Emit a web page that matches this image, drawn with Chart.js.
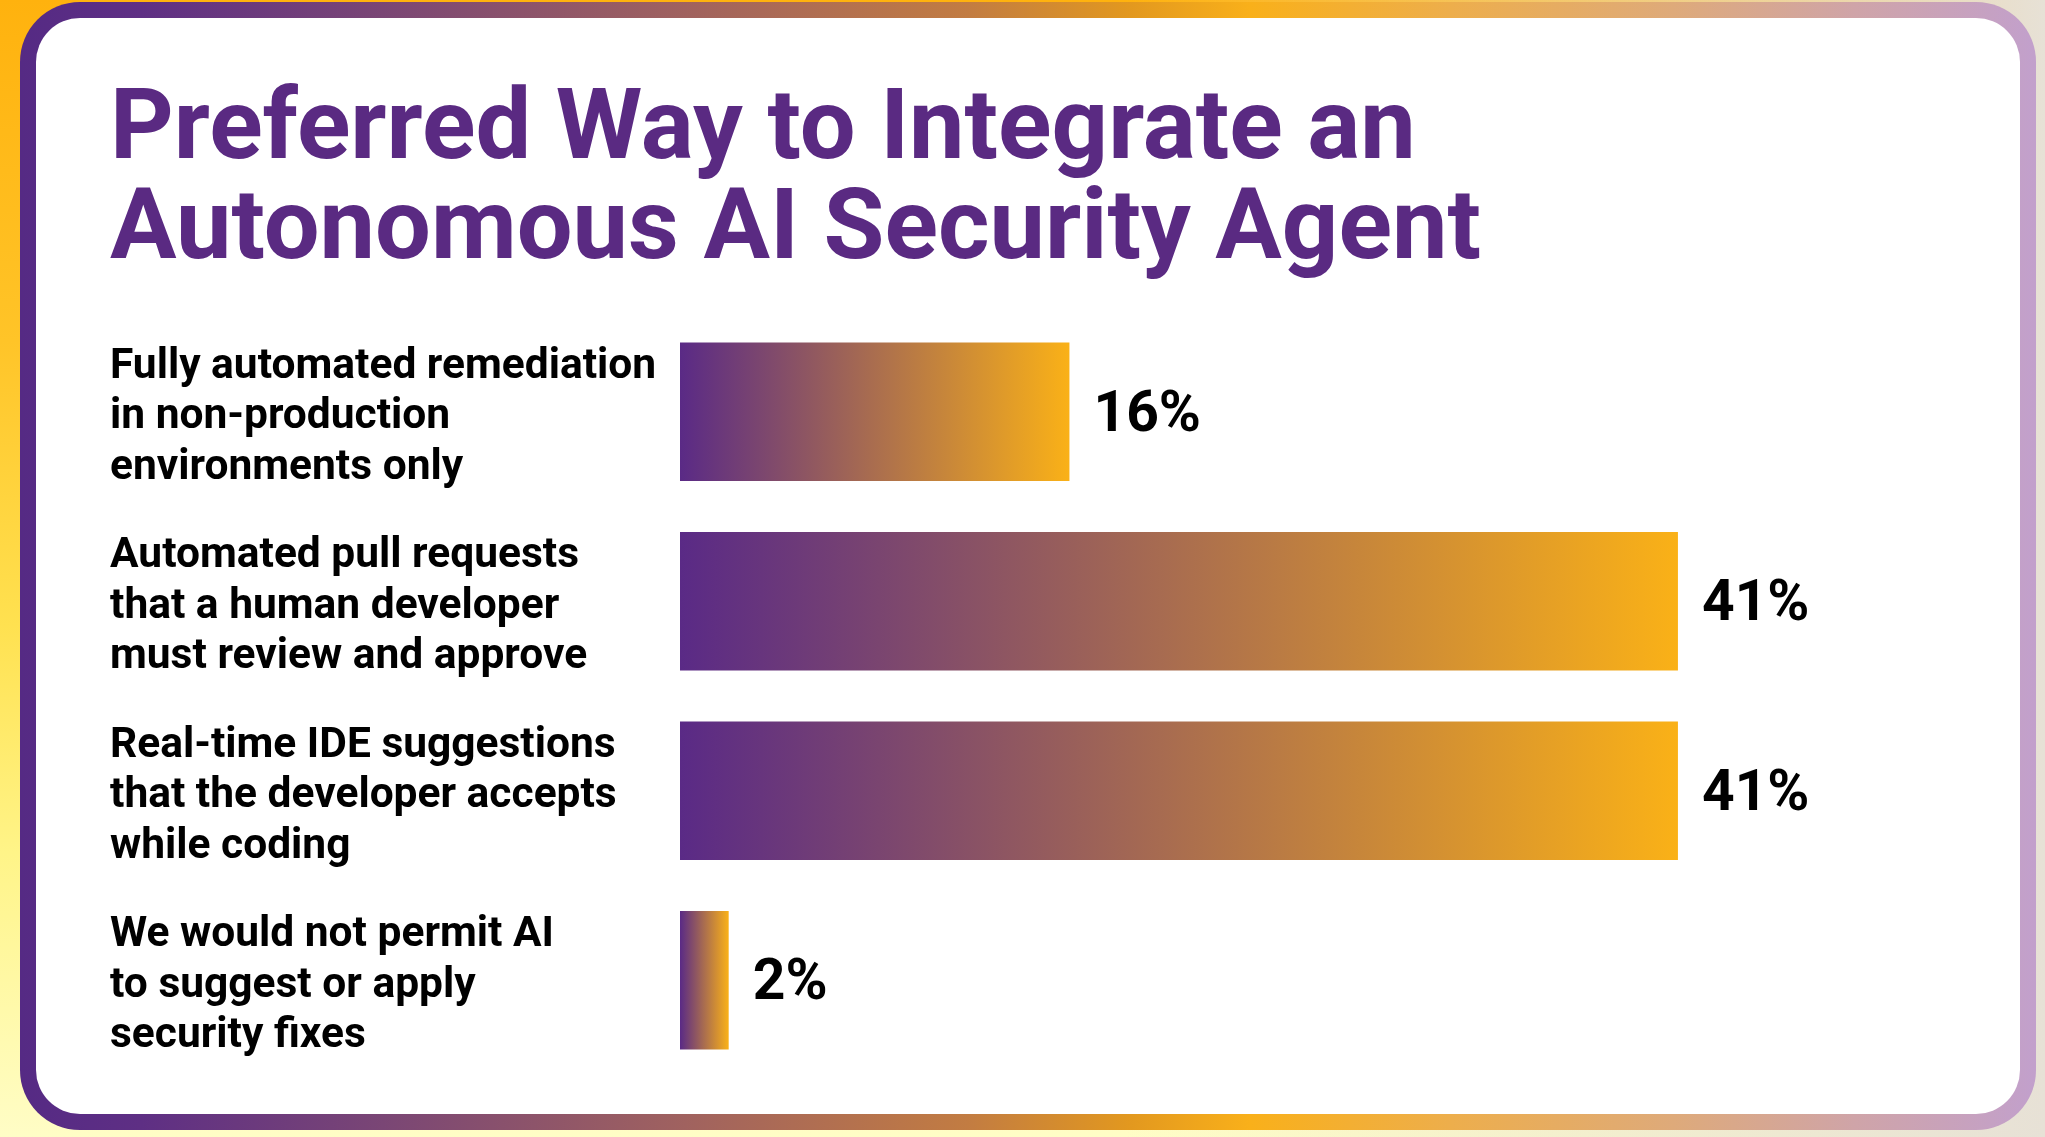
<!DOCTYPE html>
<html>
<head>
<meta charset="utf-8">
<script src="https://cdn.jsdelivr.net/npm/chart.js@4.4.1/dist/chart.umd.min.js"></script>
<style>
html,body{margin:0;padding:0;width:2045px;height:1137px;overflow:hidden;}
body{
  position:relative;
  background:
    linear-gradient(to right, rgba(232,226,214,0) 55%, #E7E1D6 100%),
    linear-gradient(to bottom, #FFB20E 0%, #FFC428 30%, #FFE150 55%, #FFF488 75%, #FFFDC6 100%);
}
#card{
  position:absolute;left:20px;top:2px;width:2016px;height:1128px;box-sizing:border-box;
  border:16px solid transparent;border-radius:60px;
  background:
    linear-gradient(#fff,#fff) padding-box,
    linear-gradient(to right,#552A84 0%,#5E2F84 6%,#7A4675 18%,#A0625F 33%,#C27C42 47%,#E2981F 55%,#F9B01A 61%,#EDAE4C 71%,#DEAA7A 82%,#CFA4A8 91%,#C2A0CC 100%) border-box;
}
#c{position:absolute;left:0;top:0;}
</style>
</head>
<body>
<div id="card"></div>
<canvas id="c" width="2045" height="1137"></canvas>
<script>
const titleLines = ["Preferred Way to Integrate an", "Autonomous AI Security Agent"];
const categories = [
  ["Fully automated remediation", "in non-production", "environments only"],
  ["Automated pull requests", "that a human developer", "must review and approve"],
  ["Real-time IDE suggestions", "that the developer accepts", "while coding"],
  ["We would not permit AI", "to suggest or apply", "security fixes"]
];
const values = [16, 41, 41, 2];
const valueLabels = ["16%", "41%", "41%", "2%"];

const barColorStart = '#5A2A86';
const barColorEnd = '#FAB117';

const valueLabelPlugin = {
  id: 'valueLabels',
  afterDatasetsDraw(chart) {
    const ctx = chart.ctx;
    const meta = chart.getDatasetMeta(0);
    ctx.save();
    ctx.font = 'bold 57px Roboto';
    ctx.fillStyle = '#000000';
    ctx.textAlign = 'left';
    ctx.textBaseline = 'middle';
    meta.data.forEach((bar, i) => {
      ctx.fillText(valueLabels[i], bar.x + 24, bar.y + 5);
    });
    ctx.restore();
  }
};

new Chart(document.getElementById('c'), {
  type: 'bar',
  data: {
    labels: categories,
    datasets: [{
      data: values,
      borderWidth: 0,
      barPercentage: 0.73,
      categoryPercentage: 1,
      backgroundColor: (c) => {
        const chart = c.chart;
        if (!chart.chartArea || c.dataIndex === undefined) return barColorStart;
        const xs = chart.scales.x;
        const x0 = xs.getPixelForValue(0);
        const x1 = xs.getPixelForValue(values[c.dataIndex]);
        const g = chart.ctx.createLinearGradient(x0, 0, x1, 0);
        g.addColorStop(0, barColorStart);
        g.addColorStop(1, barColorEnd);
        return g;
      }
    }]
  },
  options: {
    indexAxis: 'y',
    responsive: false,
    animation: false,
    devicePixelRatio: 1,
    layout: { padding: { left: 110, right: 148, top: 0, bottom: 62 } },
    plugins: {
      legend: { display: false },
      tooltip: { enabled: false },
      title: {
        display: true,
        text: titleLines,
        align: 'start',
        color: '#5A2A82',
        font: { family: 'Roboto', weight: 'bold', size: 99, lineHeight: 1.01 },
        padding: { top: 83, bottom: 34 }
      }
    },
    scales: {
      x: {
        display: false,
        min: 0,
        max: 50,
        grid: { display: false }
      },
      y: {
        grid: { display: false, drawTicks: false },
        border: { display: false },
        ticks: {
          crossAlign: 'far',
          color: '#000000',
          padding: 20,
          labelOffset: 6,
          font: { family: 'Roboto', weight: 'bold', size: 42.5, lineHeight: 1.19 }
        },
        afterFit(scale) {
          scale.width = 570;
          scale.paddingTop = 0;
          scale.paddingBottom = 0;
        }
      }
    }
  },
  plugins: [valueLabelPlugin]
});
</script>
</body>
</html>
